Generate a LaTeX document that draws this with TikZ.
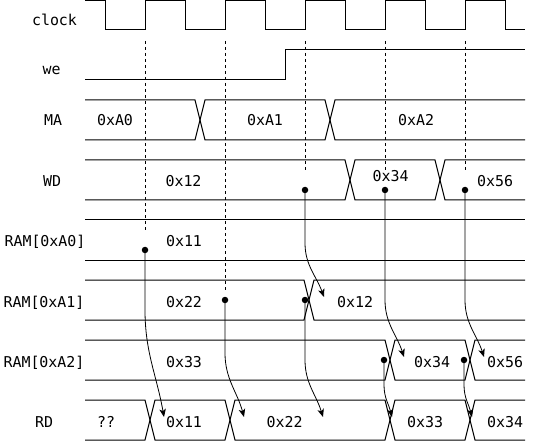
\documentclass[tikz,border=0pt]{standalone}
\usepackage{fontspec}
\setmonofont{DejaVu Sans Mono}
\usetikzlibrary{arrows.meta}
\begin{document}
\begin{tikzpicture}[x=1bp,y=-1bp,
  wave/.style={line width=1bp, line join=miter},
  guide/.style={line width=0.8bp, dash pattern=on 3bp off 3bp},
  dotnode/.style={circle, fill=black, inner sep=0pt, minimum size=6.5bp},
  lbl/.style={font=\ttfamily\fontsize{15}{18}\selectfont, anchor=base, inner sep=0pt},
  arr/.style={line width=0.8bp, -{Stealth[length=8bp,width=6.5bp,inset=2bp]}}
]
\useasboundingbox (0,0) rectangle (535,442);

% clock
\draw[wave] (85,0.5) -- (105,0.5) -- (105,30) -- (145,30) -- (145,0.5) -- (185,0.5) -- (185,30)
  -- (225,30) -- (225,0.5) -- (265,0.5) -- (265,30) -- (305,30) -- (305,0.5) -- (345,0.5)
  -- (345,30) -- (385,30) -- (385,0.5) -- (425,0.5) -- (425,30) -- (465,30) -- (465,0.5)
  -- (505,0.5) -- (505,30) -- (525,30);
% we
\draw[wave] (85,80) -- (285,80) -- (285,50) -- (525,50);
% MA
\draw[wave] (85,100) -- (195,100) -- (205,140) -- (325,140) -- (335,100) -- (525,100);
\draw[wave] (85,140) -- (195,140) -- (205,100) -- (325,100) -- (335,140) -- (525,140);
% WD
\draw[wave] (85,160) -- (345,160) -- (355,200) -- (435,200) -- (445,160) -- (525,160);
\draw[wave] (85,200) -- (345,200) -- (355,160) -- (435,160) -- (445,200) -- (525,200);
% RAM[0xA0]
\draw[wave] (85,220) -- (525,220);
\draw[wave] (85,260) -- (525,260);
% RAM[0xA1]
\draw[wave] (85,280) -- (304,280) -- (314,320) -- (525,320);
\draw[wave] (85,320) -- (304,320) -- (314,280) -- (525,280);
% RAM[0xA2]
\draw[wave] (85,340) -- (385,340) -- (395,380) -- (465,380) -- (475,340) -- (525,340);
\draw[wave] (85,380) -- (385,380) -- (395,340) -- (465,340) -- (475,380) -- (525,380);
% RD
\draw[wave] (85,400) -- (145,400) -- (155,440) -- (225,440) -- (235,400) -- (385,400) -- (395,440)
  -- (465,440) -- (475,400) -- (525,400);
\draw[wave] (85,440) -- (145,440) -- (155,400) -- (225,400) -- (235,440) -- (385,440) -- (395,400)
  -- (465,400) -- (475,440) -- (525,440);

% labels
\node[lbl] (lclk) at (54.5,26) {clock};
\node[lbl] (lwe) at (51.5,75) {we};
\node[lbl] (lma) at (53,126) {MA};
\node[lbl] (lwd) at (52,187) {WD};
\node[lbl] (lr0) at (45,247) {RAM[0xA0]};
\node[lbl] (lr1) at (44,307) {RAM[0xA1]};
\node[lbl] (lr2) at (44,367) {RAM[0xA2]};
\node[lbl] (lrd) at (44,427) {RD};

% values
\node[lbl] (ma0) at (115,126) {0xA0};
\node[lbl] (ma1) at (265,126) {0xA1};
\node[lbl] (ma2) at (416,126) {0xA2};
\node[lbl] (wd0) at (183.5,187) {0x12};
\node[lbl] (wd1) at (390.5,182) {0x34};
\node[lbl] (wd2) at (495,187) {0x56};
\node[lbl] (r00) at (184,247) {0x11};
\node[lbl] (r10) at (184,307) {0x22};
\node[lbl] (r11) at (355,307) {0x12};
\node[lbl] (r20) at (184,367) {0x33};
\node[lbl] (r21) at (432,367) {0x34};
\node[lbl] (r22) at (505,367) {0x56};
\node[lbl] (rd0) at (106,427) {??};
\node[lbl] (rd1) at (184,427) {0x11};
\node[lbl] (rd2) at (284.5,427) {0x22};
\node[lbl] (rd3) at (425,427) {0x33};
\node[lbl] (rd4) at (505,427) {0x34};

% guides
\draw[guide] (145,41) -- (145,230);
\draw[guide] (225,41) -- (225,292);
\draw[guide] (305,41) -- (305,170);
\draw[guide] (385,41) -- (385,170);
\draw[guide] (465,41) -- (465,170);

% dots
\node[dotnode] (d1) at (145,250) {};
\node[dotnode] (d2) at (225,300) {};
\node[dotnode] (d3) at (305,190) {};
\node[dotnode] (d4) at (305,300) {};
\node[dotnode] (d5) at (385,190) {};
\node[dotnode] (d6) at (465,190) {};
\node[dotnode] (d7) at (384,360) {};
\node[dotnode] (d8) at (464,360) {};

% arrow tips
\coordinate (t1) at (164,417);
\coordinate (t2) at (244,417);
\coordinate (t3) at (324,297);
\coordinate (t4) at (323,417);
\coordinate (t5) at (404,357);
\coordinate (t6) at (484,357);
\coordinate (t7) at (392,417);
\coordinate (t8) at (472,417);

% arrows
\draw[arr] (d1.center) -- (145,310) to[out=-90,in=100] (t1);
\draw[arr] (d2.center) -- (225,353) to[out=-90,in=105] (t2);
\draw[arr] (d3.center) -- (305,243) to[out=-90,in=110] (t3);
\draw[arr] (d4.center) -- (305,360) to[out=-90,in=107] (t4);
\draw[arr] (d5.center) -- (385,300) to[out=-90,in=108] (t5);
\draw[arr] (d6.center) -- (465,300) to[out=-90,in=108] (t6);
\draw[arr] (d7.center) -- (384,385) to[out=-90,in=104] (t7);
\draw[arr] (d8.center) -- (464,385) to[out=-90,in=104] (t8);
\end{tikzpicture}
\end{document}
